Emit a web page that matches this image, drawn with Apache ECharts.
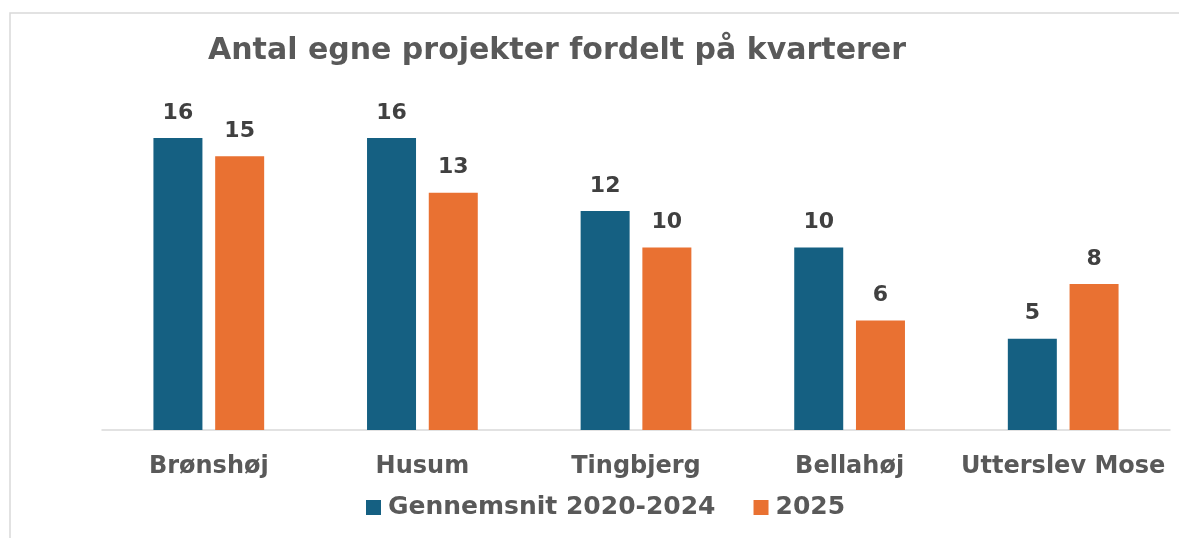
<!DOCTYPE html>
<html>
<head>
<meta charset="utf-8">
<script src="https://cdn.jsdelivr.net/npm/echarts@6/dist/echarts.min.js"></script>
<style>
  html, body { margin: 0; padding: 0; background: #fff; }
  #chart { width: 1179px; height: 538px; }
</style>
</head>
<body>
<div id="chart"></div>
<script>
const titleText = "Antal egne projekter fordelt på kvarterer";
const categories = ["Brønshøj", "Husum", "Tingbjerg", "Bellahøj", "Utterslev Mose"];
const seriesNames = ["Gennemsnit 2020-2024", "2025"];
const avgValues = [16, 16, 12, 10, 5];
const values2025 = [15, 13, 10, 6, 8];

const font = "DejaVu Sans";
const chart = echarts.init(document.getElementById("chart"), null, { renderer: "canvas" });

const labelStyle = {
  show: true,
  position: "top",
  distance: 14,
  color: "#404040",
  fontFamily: font,
  fontWeight: "bold",
  fontSize: 22
};

chart.setOption({
  animation: false,
  backgroundColor: "#fff",
  graphic: [{
    type: "rect",
    shape: { x: 10, y: 13, width: 1300, height: 700 },
    style: { fill: "none", stroke: "#D9D9D9", lineWidth: 1.5 },
    silent: true
  }],
  title: {
    text: titleText,
    left: 203,
    top: 31,
    textStyle: {
      color: "#595959",
      fontFamily: font,
      fontWeight: "bold",
      fontSize: 30
    }
  },
  legend: {
    data: seriesNames,
    left: 361,
    top: 490,
    icon: "rect",
    itemWidth: 15,
    itemHeight: 15,
    itemGap: 38,
    textStyle: {
      color: "#595959",
      fontFamily: font,
      fontWeight: "bold",
      fontSize: 25,
      padding: [0, 0, 0, 2]
    }
  },
  grid: { left: 102, right: 9, top: 65, bottom: 108 },
  xAxis: {
    type: "category",
    data: categories,
    axisTick: { show: false },
    axisLine: { lineStyle: { color: "#D9D9D9", width: 1.5 } },
    axisLabel: {
      interval: 0,
      margin: 25,
      color: "#595959",
      fontFamily: font,
      fontWeight: "bold",
      fontSize: 24
    }
  },
  yAxis: {
    type: "value",
    min: 0,
    max: 20,
    show: false,
    splitLine: { show: false }
  },
  series: [
    {
      name: seriesNames[0],
      type: "bar",
      data: avgValues,
      barWidth: 49,
      barGap: "26%",
      itemStyle: { color: "#156082" },
      label: labelStyle
    },
    {
      name: seriesNames[1],
      type: "bar",
      data: values2025,
      barWidth: 49,
      itemStyle: { color: "#E97132" },
      label: labelStyle
    }
  ]
});
</script>
</body>
</html>
